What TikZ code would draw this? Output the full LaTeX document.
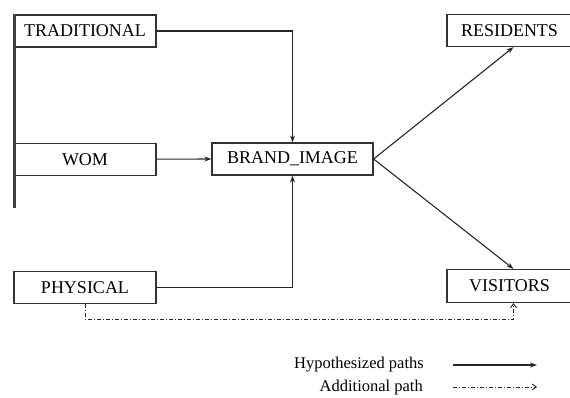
\documentclass[tikz,border=0pt]{standalone}
\usepackage{fontspec}
\setmainfont{Liberation Serif}
\usetikzlibrary{arrows.meta,positioning}

\begin{document}
\begin{tikzpicture}[x=1pt,y=-1pt]
\tikzstyle{box}=[draw, line width=1.2pt, draw=black!80, minimum height=32pt, minimum width=142pt, inner sep=2pt, font=\fontsize{18}{20}\selectfont]
\tikzstyle{hyp}=[line width=1.1pt, draw=black!85, -{Stealth[length=7pt,width=5pt]}]
\tikzstyle{addl}=[line width=0.9pt, draw=black!85, dash pattern=on 4pt off 2pt on 1pt off 2pt, -{Straight Barb[length=4pt,width=6pt]}]
\tikzstyle{legend}=[font=\fontsize{16.5}{18}\selectfont, inner sep=0pt]
\useasboundingbox (0,0) rectangle (570,398);
% left column
\node[box](trad) at (85,31) {TRADITIONAL};
\node[box](wom) [below = 95pt of trad] {WOM};
\node[box](phys) [below = 95pt of wom] {PHYSICAL};
\coordinate (linetop) at (14.5,14);
\coordinate (lineend) at (14.5,208);
\draw[line width=2.4pt, draw=black!75] (linetop) -- (lineend);
% centre and right column
\node[box, minimum width=161pt](brand) at (292.5,159) {BRAND\_IMAGE};
\node[box, minimum width=125pt](res) at (509.5,30.5) {RESIDENTS};
\node[box, minimum width=125pt, minimum height=33pt](vis) at (509.5,286) {VISITORS};
% paths
\draw[hyp] (trad.east) -| (brand.north);
\draw[hyp] (wom.east) -- (brand.west);
\draw[hyp] (phys.east) -| (brand.south);
\draw[hyp] (brand.east) -- ([xshift=4pt]res.south);
\draw[hyp] (brand.east) -- ([xshift=4pt]vis.north);
\coordinate (turn) at (85,319);
\draw[addl] (phys.south) -- (turn) -| ([xshift=4pt]vis.south);
% legend
\node[legend, anchor=east](hyptxt) at (424,365) {Hypothesized paths};
\node[legend, anchor=east](addtxt) at (423,388) {Additional path};
\coordinate (hypa) at (453,365);
\coordinate (hypb) at (537,365);
\coordinate (adda) at (453,387);
\coordinate (addb) at (537,387);
\draw[hyp] (hypa) -- (hypb);
\draw[addl] (adda) -- (addb);
\end{tikzpicture}
\end{document}
